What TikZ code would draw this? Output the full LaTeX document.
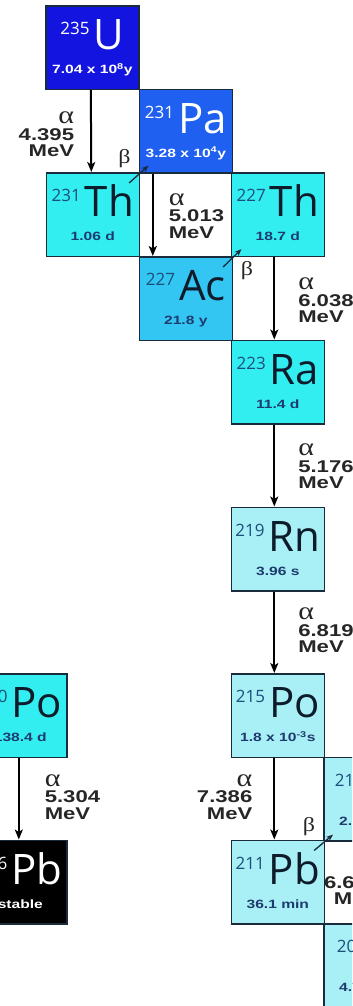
\documentclass[tikz,border=0pt]{standalone}
\usepackage{fontspec}
\usetikzlibrary{positioning,arrows.meta,calc}
\newfontfamily\isofont{Open Sans}
\newfontfamily\boldwide[FakeStretch=1.3]{Liberation Sans}
\newfontfamily\greekfont[FakeStretch=1.2]{Liberation Serif}
\definecolor{cU}{HTML}{1414E0}
\definecolor{cPa}{HTML}{2060F0}
\definecolor{cCy}{HTML}{33EEF0}
\definecolor{cAc}{HTML}{33C6F2}
\definecolor{cLt}{HTML}{A8F0F5}
\definecolor{cPb}{HTML}{000000}
\definecolor{edge}{HTML}{1A2B3C}
\definecolor{ink}{HTML}{262626}
\definecolor{massdark}{HTML}{FFFFFF}
\definecolor{symdark}{HTML}{FFFFFF}
\definecolor{hldark}{HTML}{FFFFFF}
\definecolor{masslight}{HTML}{1C4F7C}
\definecolor{symlight}{HTML}{0D1B2A}
\definecolor{hllight}{HTML}{1E3A6E}
\newcommand{\mass}[2]{\raisebox{15bp}{\color{#1}\fontsize{17bp}{17bp}\selectfont #2}\kern4bp}
\newcommand{\agr}{{\greekfont\mdseries\fontsize{25bp}{16.5bp}\selectfont α}}

\begin{document}
\begin{tikzpicture}[x=1bp,y=-1bp,
  iso/.style={draw=edge,line width=1.6bp,minimum width=93bp,minimum height=83.5bp,inner sep=0pt,anchor=north west},
  symtxt/.style={anchor=base,inner sep=0pt,font=\isofont\fontsize{42bp}{42bp}\selectfont},
  hltxt/.style={anchor=base,inner sep=0pt,font=\boldwide\bfseries\fontsize{12bp}{12bp}\selectfont},
  alphaarr/.style={-{Stealth[length=10bp,width=8bp,inset=2.5bp]},line width=2bp,black},
  betaarr/.style={-{Stealth[length=7bp,width=5.5bp]},line width=1.3bp,edge},
  lbl/.style={inner sep=0pt,text=ink,font=\boldwide\bfseries\fontsize{17bp}{16.5bp}\selectfont},
  lblL/.style={lbl,anchor=east,align=right},
  lblR/.style={lbl,anchor=west,align=left},
  blbl/.style={inner sep=0pt,text=ink,font=\greekfont\fontsize{20bp}{20bp}\selectfont}]
  \useasboundingbox (0,0) rectangle (352,1006);
  \clip (0,0) rectangle (352,1006);
  \fill[white] (0,0) rectangle (352,1006);

  % isotope boxes
  \foreach \nm/\x/\y/\col/\tc/\A/\el/\hl in {
    U235/45/5/cU/dark/235/U/{7.04 x 10\textsuperscript{8}y},
    Pa231/138.5/88.5/cPa/dark/231/Pa/{3.28 x 10\textsuperscript{4}y},
    Th231/45.5/172/cCy/light/231/Th/{1.06 d},
    Th227/230.5/172/cCy/light/227/Th/{18.7 d},
    Ac227/138.5/256/cAc/light/227/Ac/{21.8 y},
    Ra223/230.5/339.5/cCy/light/223/Ra/{11.4 d},
    Rn219/230.5/506.5/cLt/light/219/Rn/{3.96 s},
    Po215/230.5/673/cLt/light/215/Po/{1.8 x 10\textsuperscript{-3}s},
    Bi211/323/756.5/cLt/light/211/Bi/{2.14 min},
    Pb211/230.5/839.5/cLt/light/211/Pb/{36.1 min},
    Tl207/323/923/cLt/light/207/Tl/{4.77 min},
    Po210/-27/673/cCy/light/210/Po/{138.4 d},
    Pb206/-27/839.5/cPb/dark/206/Pb/stable}{
    \node[iso,fill=\col] (\nm) at (\x,\y) {};
    \node[symtxt,text=sym\tc] (s\nm) at ($(\nm.north)+(0,44.5)$) {\mass{mass\tc}{\A}\el};
    \node[hltxt,text=hl\tc] (h\nm) at ($(\nm.north)+(0,68.5)$) {\hl};
  }

  % alpha decays
  \foreach \a/\b/\dx/\side/\gx/\dy/\E in {
    U235/Th231/-1.5/lblL/-16/-3.5/4.395,
    Pa231/Ac227/-33/lblR/15/-1/5.013,
    Th227/Ra223/-3.5/lblR/23/-2/6.038,
    Ra223/Rn219/-3.5/lblR/23/-1/5.176,
    Rn219/Po215/-3.5/lblR/23/2/6.819,
    Po215/Pb211/-3.5/lblL/-21/2/7.386,
    Bi211/Tl207/31/lblL/-21/0/6.623,
    Po210/Pb206/-1.5/lblR/25/2/5.304}{
    \draw[alphaarr] ([xshift=\dx bp]\a.south) -- ([xshift=\dx bp]\b.north)
      node[\side,pos=0.5,xshift=\gx bp,yshift=\dy bp] (e\a) {\agr\\\E\\MeV};
  }

  % beta decays
  \draw[betaarr] ([shift={(-11,11)}]Th231.north east) -- ([shift={(10,-8)}]Pa231.south west);
  \draw[betaarr] ([shift={(-10,11)}]Ac227.north east) -- ([shift={(11,-8)}]Th227.south west);
  \draw[betaarr] ([shift={(-11,11)}]Pb211.north east) -- ([shift={(10,-7)}]Bi211.south west);
  \node[blbl] (b1) at ($(Pa231.south west)+(-14,-15)$) {β};
  \node[blbl] (b2) at ($(Ac227.north east)+(14,15)$) {β};
  \node[blbl] (b3) at ($(Pb211.north east)+(-16,-13)$) {β};
\end{tikzpicture}
\end{document}
